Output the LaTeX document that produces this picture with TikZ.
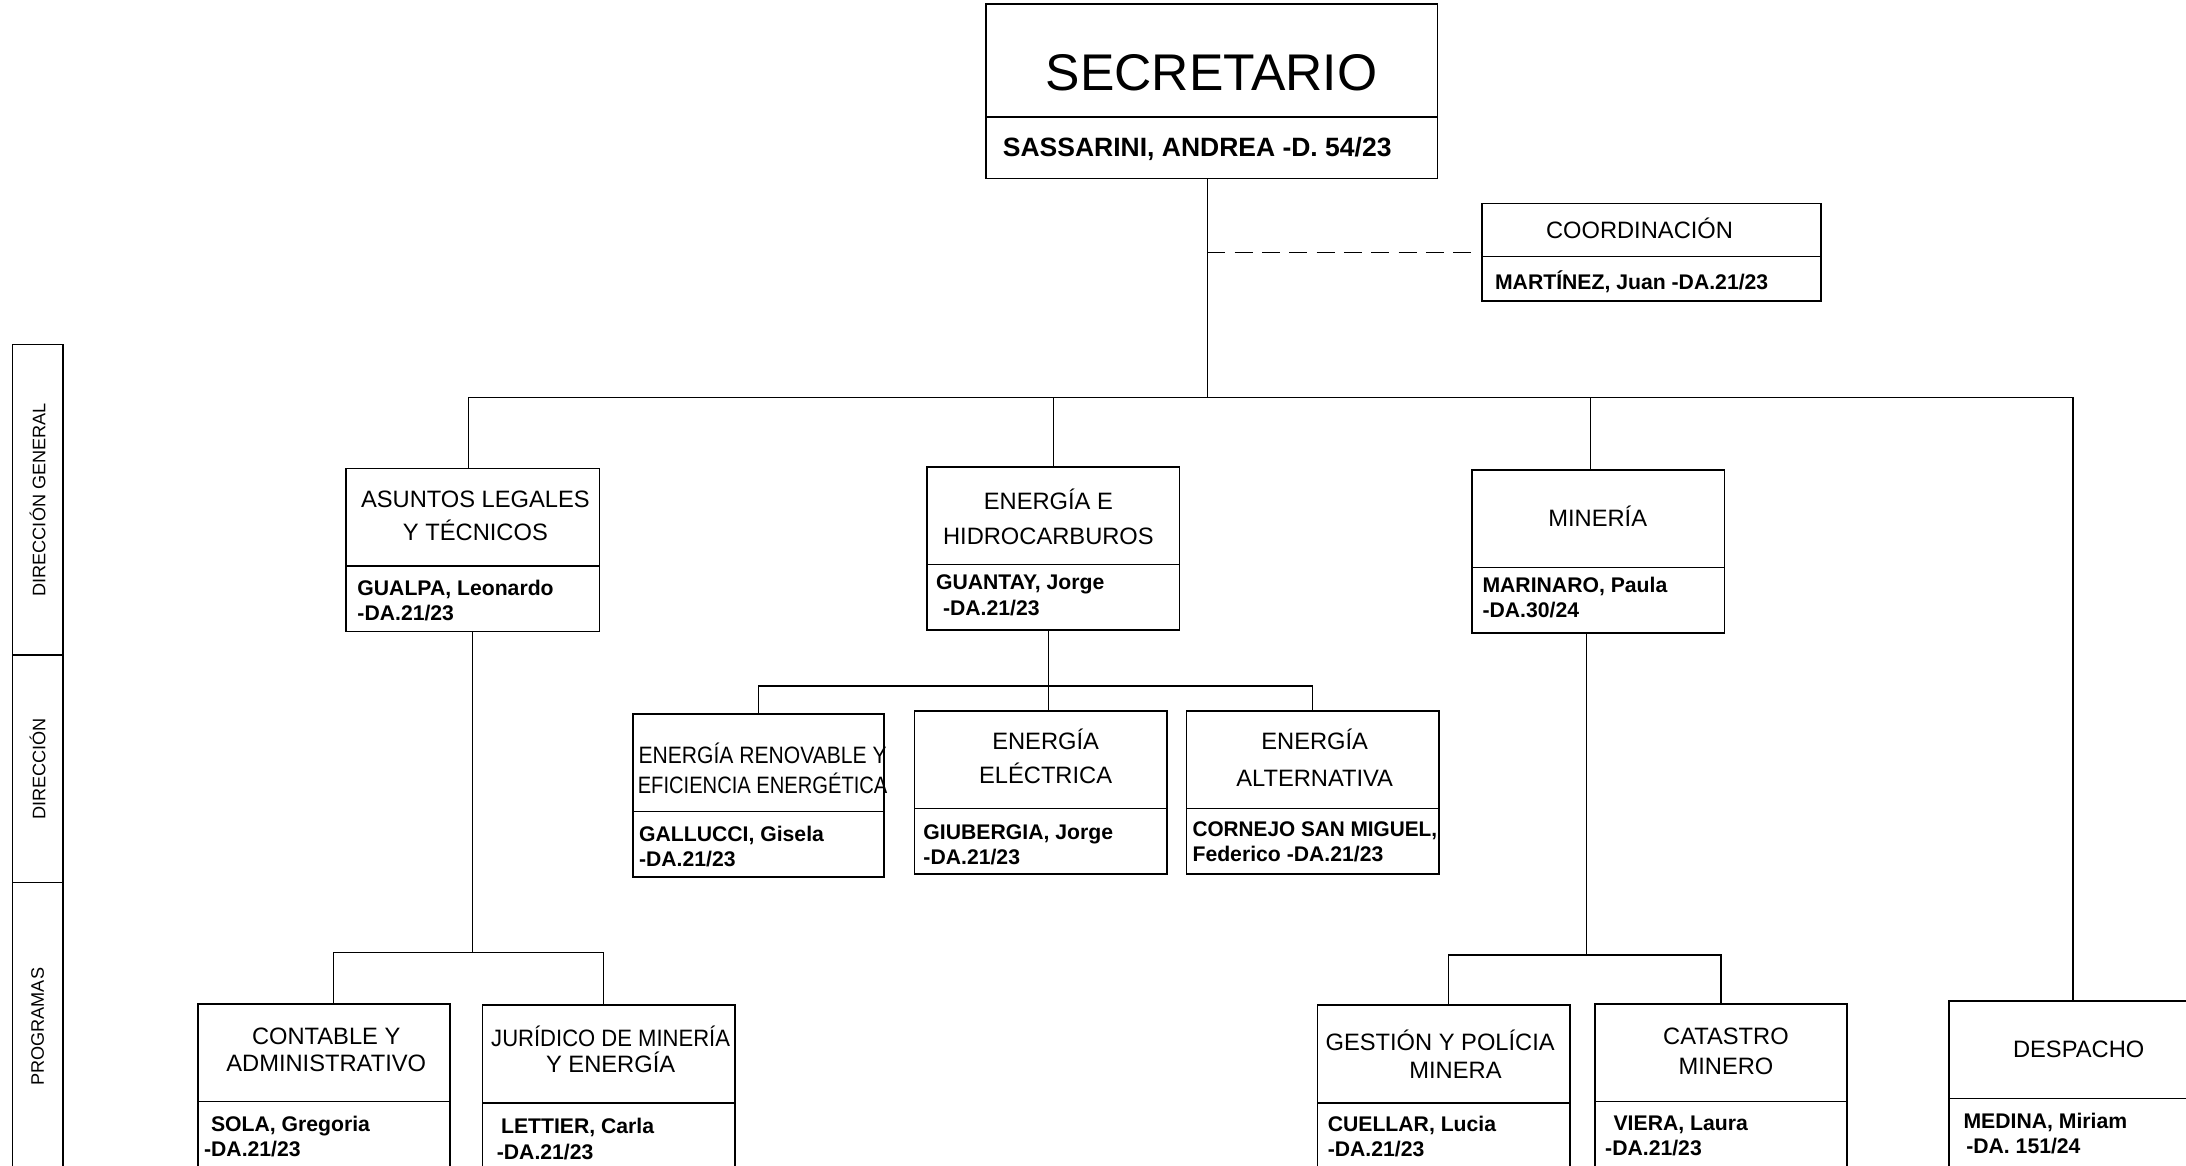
\documentclass[tikz,border=0pt]{standalone}
\usepackage{fontspec}
\usepackage{graphicx}
\setmainfont{Liberation Sans}
\usetikzlibrary{calc}
\tikzset{
  obox/.style={draw, line width=0.6pt, rectangle, inner sep=0pt, outer sep=0pt},
  conn/.style={line width=0.5pt},
  dashconn/.style={line width=0.5pt, dash pattern=on 6.5pt off 3.3pt},
  ttl/.style={align=center, inner sep=0pt, font=\fontsize{8.5}{#1}\selectfont},
  ttl/.default=12,
  nm/.style={align=left, anchor=west, inner sep=0pt, font=\bfseries\fontsize{7.6}{9}\selectfont},
  side/.style={draw, line width=0.6pt, rotate=90, inner sep=0pt, outer sep=0pt, minimum height=18pt, font=\fontsize{6.5}{7}\selectfont},
}
\newcommand\orgbox[6]{%
  \node[obox, minimum width={(#4-#2)*0.5pt}, minimum height={(#5-#3)*0.5pt}] (#1) at ({(#2+#4)/2},{(#3+#5)/2}) {};
  \draw[line width=0.6pt] (#1.west |- 0,#6) -- (#1.east |- 0,#6);
}
\begin{document}
\begin{tikzpicture}[x=0.5pt,y=-0.5pt]
\clip (0,0) rectangle (1568,836);
\fill[white] (0,0) rectangle (1568,836);

% side column
\node[side, minimum width={223*0.5pt}] (dg) at (27,358.5) {DIRECCIÓN GENERAL};
\node[side, minimum width={163*0.5pt}] (dir) at (27,551.5) {DIRECCIÓN};
\node[side, minimum width={207*0.5pt}] (prog) at (27,736.5) {PROGRAMAS};

% boxes
\orgbox{sec}{707}{3}{1031}{128}{84}
\orgbox{coord}{1063}{146}{1306}{216}{184}
\orgbox{asuntos}{248}{336}{430}{453}{406}
\orgbox{hidro}{665}{335}{846}{452}{405}
\orgbox{mineria}{1056}{337}{1237}{454}{407}
\orgbox{renov}{454}{512}{634}{629}{582}
\orgbox{electrica}{656}{510}{837}{627}{580}
\orgbox{altern}{851}{510}{1032}{627}{580}
\orgbox{contable}{142}{720}{323}{850}{790}
\orgbox{juridico}{346}{721}{527}{850}{791}
\orgbox{gestion}{945}{721}{1126}{850}{791}
\orgbox{catastro}{1144}{720}{1325}{850}{790}
\orgbox{despacho}{1398}{718}{1576}{850}{788}

% connectors
\coordinate (trunk) at ([xshift=-1.5pt]sec.south);
\coordinate (bus) at (866,285);
\coordinate (asu) at ([xshift=-1.5pt]asuntos.north);
\coordinate (mnu) at ([xshift=-2.75pt]mineria.north);
\draw[conn] (trunk) -- (trunk |- bus);
\draw[conn] (asu) |- (despacho.north |- bus) -- (despacho.north);
\draw[conn] (hidro.north) -- (hidro.north |- bus);
\draw[conn] (mnu) -- (mnu |- bus);
\draw[dashconn] (trunk |- coord.west) -- (coord.west);

\coordinate (cA) at ([xshift=3.25pt]contable.north);
\coordinate (jA) at ([xshift=-1.75pt]juridico.north);
\draw[conn] (asuntos.south) -- (asuntos.south |- 0,683);
\draw[conn] (cA) |- (jA |- 0,683) -- (jA);

\coordinate (hd) at ([xshift=-1.75pt]hidro.south);
\draw[conn] (hd) -- (hd |- electrica.north);
\draw[conn] (renov.north) |- (altern.north |- 0,492) -- (altern.north);

\coordinate (md) at ([xshift=-4.25pt]mineria.south);
\coordinate (gA) at ([xshift=1.75pt]gestion.north);
\draw[conn] (md) -- (md |- 0,685);
\draw[conn] (gA) |- (catastro.north |- 0,685) -- (catastro.north);

% titles
\node[ttl, font=\fontsize{18.5}{20}\selectfont] (sec-t) at (869,52) {SECRETARIO};
\node[ttl] (coord-t) at (1176,164) {COORDINACIÓN};
\node[ttl=12] (asuntos-t) at (341,370) {ASUNTOS LEGALES\\Y TÉCNICOS};
\node[ttl=12.5] (hidro-t) at (752,370.5) {ENERGÍA E\\HIDROCARBUROS};
\node[ttl] (mineria-t) at (1146,370) {MINERÍA};
\node[ttl=11] (renov-t) at (547,551) {\scalebox{0.89}[1]{ENERGÍA RENOVABLE Y}\\\scalebox{0.85}[1]{EFICIENCIA ENERGÉTICA}};
\node[ttl=12.5] (electrica-t) at (750,542.5) {ENERGÍA\\ELÉCTRICA};
\node[ttl=13.5] (altern-t) at (943,543.5) {ENERGÍA\\ALTERNATIVA};
\node[ttl=10] (contable-t) at (234,753) {CONTABLE Y\\ADMINISTRATIVO};
\node[ttl=9.5] (juridico-t) at (438,752.5) {\scalebox{0.93}[1]{JURÍDICO DE MINERÍA}\\Y ENERGÍA};
\node[ttl=10] (gestion-t) at (1033,756) {GESTIÓN Y POLÍCIA\\\hspace*{11pt}MINERA};
\node[ttl=11] (catastro-t) at (1238,754) {CATASTRO\\MINERO};
\node[ttl] (despacho-t) at (1491,753) {DESPACHO};

% names
\node[nm, font=\bfseries\fontsize{9.5}{11}\selectfont] (sec-n) at (719,106.5) {SASSARINI, ANDREA -D. 54/23};
\node[nm] (coord-n) at (1072,202) {MARTÍNEZ, Juan -DA.21/23};
\node[nm] (asuntos-n) at (256,430.5) {GUALPA, Leonardo\\-DA.21/23};
\node[nm] (hidro-n) at (671,427) {GUANTAY, Jorge\\\hspace*{2.5pt}-DA.21/23};
\node[nm] (mineria-n) at (1063,428.5) {MARINARO, Paula\\-DA.30/24};
\node[nm] (renov-n) at (458,607.5) {GALLUCCI, Gisela\\-DA.21/23};
\node[nm] (electrica-n) at (662,606) {GIUBERGIA, Jorge\\-DA.21/23};
\node[nm] (altern-n) at (855,603.5) {\scalebox{0.98}[1]{CORNEJO SAN MIGUEL,}\\Federico -DA.21/23};
\node[nm] (contable-n) at (146,815) {\hspace*{2.5pt}SOLA, Gregoria\\-DA.21/23};
\node[nm] (juridico-n) at (356,817) {\hspace*{1.5pt}LETTIER, Carla\\-DA.21/23};
\node[nm] (gestion-n) at (952,815) {CUELLAR, Lucia\\-DA.21/23};
\node[nm] (catastro-n) at (1151,814.5) {\hspace*{3pt}VIERA, Laura\\-DA.21/23};
\node[nm] (despacho-n) at (1408,813) {MEDINA, Miriam\\\hspace*{1pt}-DA. 151/24};
\end{tikzpicture}
\end{document}
